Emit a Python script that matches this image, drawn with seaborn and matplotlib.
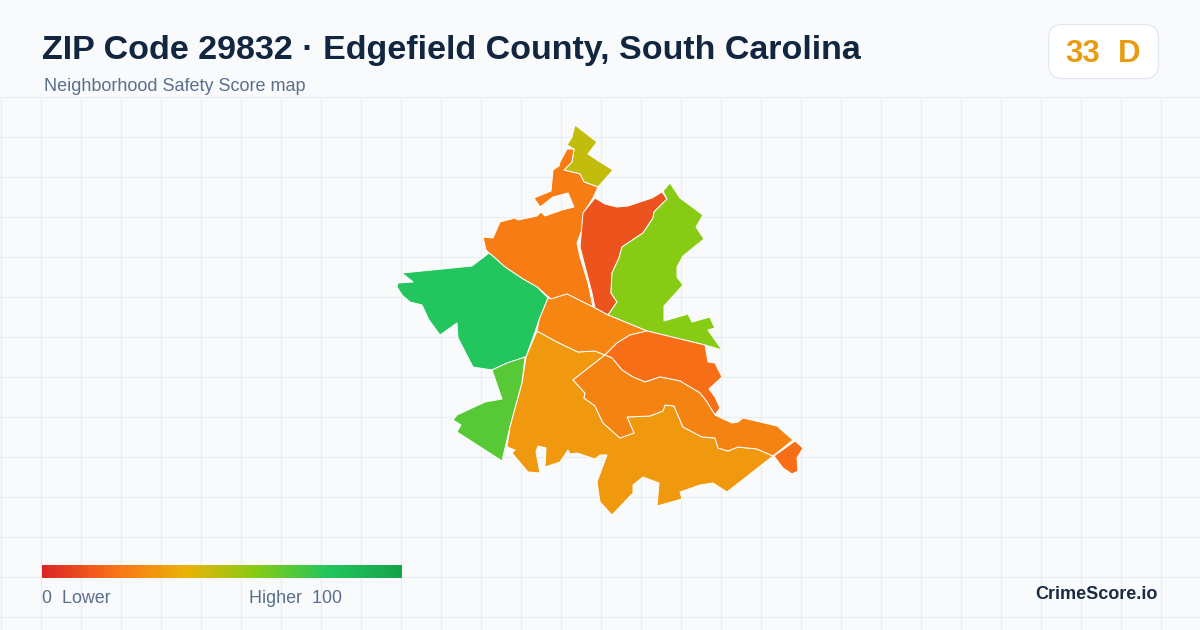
import numpy as np
import seaborn as sns
import matplotlib.pyplot as plt
from matplotlib.colors import LinearSegmentedColormap, Normalize
from matplotlib.patches import FancyBboxPatch

TITLE = "ZIP Code 29832 · Edgefield County, South Carolina"
SUBTITLE = "Neighborhood Safety Score map"

# colour scale stops, score 0-100
SCALE_STOPS = [0, 20, 40, 60, 80, 100]
SCALE_COLORS = ["#dc2626", "#f97316", "#eab308", "#84cc16", "#22c55e", "#16a34a"]

# tract outlines (x, y in pixels)
north_tip = [(575,125),(597,142),(588,154),(600,162),(613,170),(598,187),(584,182),(580,174),(564,170),(572,162),(574,149),(567,145),(572,137)]
north_west = [(574,149),(572,162),(564,170),(580,174),(584,182),(598,187),(593,198),(584,212),(583,227),(577,243),(580,257),(588,283),(593,307),
              (567,294),(551,299),(537,287),(523,279),(505,267),(495,258),(489,253),(486,250),(483,237),(493,238),(500,222),(515,218),(518,220),
              (537,216),(541,212),(545,216),(562,210),(574,207),(568,193),(553,197),(540,207),(534,198),(551,191),(553,170),(559,166),(560,162),(567,149)]
north_mid = [(595,198),(605,204),(617,207),(628,206),(640,202),(652,198),(662,192),(667,199),(654,212),(653,218),(643,233),(622,247),(619,258),(612,273),
             (611,293),(617,302),(608,315),(595,308),(592,293),(580,247),(583,213)]
north_east = [(670,183),(680,198),(703,215),(696,227),(704,239),(683,256),(677,267),(677,277),(683,285),(664,306),(664,321),(688,314),(692,322),
              (710,317),(712,322),(715,328),(708,330),(722,350),(705,345),(647,331),(608,315),(617,302),(611,293),(612,273),(619,258),(622,247),
              (643,233),(653,218),(654,212),(667,199),(663,191)]
west = [(489,253),(495,258),(505,267),(523,279),(537,287),(548,298),(539,320),(535,332),(526,357),(507,363),(492,370),(473,367),(458,338),(457,323),
        (440,335),(429,320),(422,305),(410,302),(402,295),(397,287),(398,283),(413,282),(402,273),(472,266)]
south_west = [(525,357),(522,383),(510,427),(502,461),(457,432),(461,425),(453,420),(457,415),(485,402),(502,399),(492,370),(507,363)]
south = [(537,331),(557,342),(578,352),(595,351),(605,355),(573,380),(585,393),(584,398),(595,406),(603,423),(620,438),(634,433),(627,417),(650,416),(663,411),
         (665,405),(674,406),(683,427),(702,437),(715,438),(718,448),(728,451),(738,447),(757,449),(773,456),(727,492),(713,483),(700,485),(680,492),
         (682,499),(657,506),(659,483),(643,477),(633,485),(633,493),(612,515),(600,502),(597,482),(607,455),(600,455),(595,459),(577,453),(570,454),
         (568,450),(560,462),(545,467),(546,448),(538,446),(536,452),(540,473),(528,472),(512,453),(515,450),(507,447),(510,427),(522,383),(526,357)]
center = [(551,299),(567,294),(593,307),(608,315),(647,331),(630,335),(617,343),(605,355),(595,351),(578,352),(557,342),(537,331),(539,320),(548,298)]
east = [(647,331),(705,345),(708,362),(715,363),(722,377),(709,389),(715,397),(720,408),(715,415),(707,402),(700,393),(690,387),(680,381),(660,377),(645,382),
        (633,377),(622,370),(612,358),(605,355),(617,343),(630,335)]
south_east = [(605,355),(612,358),(622,370),(633,377),(645,382),(660,377),(680,381),(690,387),(700,393),(707,402),(715,415),(717,416),(732,423),(738,422),(743,418),
              (760,422),(777,426),(793,440),(773,456),(757,449),(738,447),(728,451),(718,448),(715,438),(702,437),(683,427),(674,406),(665,405),(663,411),
              (650,416),(627,417),(634,433),(620,438),(603,423),(595,406),(584,398),(585,393),(573,380)]
river_tip = [(795,441),(803,448),(797,458),(798,471),(792,474),(783,468),(774,456)]

TRACTS = [north_tip, north_west, north_mid, north_east, west, south_west, south, center, east, south_east, river_tip]
SCORES = [48, 23, 12, 59, 80, 69, 32, 26, 19, 25, 19]

OVERALL_SCORE = "33"
OVERALL_GRADE = "D"
LEGEND_LOW = "0  Lower"
LEGEND_HIGH = "Higher  100"
BRAND = "CrimeScore.io"

sns.set_theme(style="white")
plt.rcParams['font.family'] = ['Liberation Sans', 'DejaVu Sans']

BG = "#f8fafc"
GRID = "#e4eef3"
NAVY = "#12263f"
SLATE = "#5b6f8c"
AMBER = "#e99c12"

cmap = LinearSegmentedColormap.from_list("safety", [(s / 100, c) for s, c in zip(SCALE_STOPS, SCALE_COLORS)])
norm = Normalize(0, 100)

fig = plt.figure(figsize=(12, 6.3), dpi=100, facecolor=BG)
ax = fig.add_axes([0, 0, 1, 1])
ax.set_xlim(0, 1200)
ax.set_ylim(630, 0)
ax.axis("off")

# background grid, below the header only
for x in np.arange(0.5, 1200, 40):
    ax.plot([x, x], [96.5, 630], color=GRID, lw=0.75, zorder=1)
for y in np.arange(96.5, 630, 40):
    ax.plot([0, 1200], [y, y], color=GRID, lw=0.75, zorder=1)

for outline, score in zip(TRACTS, SCORES):
    xs, ys = zip(*outline)
    ax.fill(xs, ys, facecolor=cmap(norm(score)), edgecolor="white", lw=0.7, joinstyle="round", zorder=2)

ax.text(42, 59, TITLE, fontsize=24.45, fontweight="bold", color=NAVY)
ax.text(44, 91, SUBTITLE, fontsize=12.95, color=SLATE)

badge = FancyBboxPatch((1048.5, 24.5), 110, 54, boxstyle="round,pad=0,rounding_size=14",
                       facecolor="white", edgecolor="#e2e8f0", lw=0.9, zorder=3)
ax.add_patch(badge)
ax.text(1065, 62, OVERALL_SCORE, fontsize=22.5, fontweight="bold", color=AMBER, zorder=4)
ax.text(1118, 62, OVERALL_GRADE, fontsize=22.5, fontweight="bold", color=AMBER, zorder=4)

ax.text(42, 603, LEGEND_LOW, fontsize=12.9, color=SLATE)
ax.text(249, 603, LEGEND_HIGH, fontsize=12.9, color=SLATE)
ax.text(1158, 599, BRAND, fontsize=13, fontweight="bold", color="#1a2b42", ha="right")

# legend ramp
cax = fig.add_axes([42 / 1200, 1 - 578 / 630, 360 / 1200, 13 / 630])
sns.heatmap(np.arange(0, 101).reshape(1, -1), cmap=cmap, vmin=0, vmax=100, cbar=False,
            xticklabels=False, yticklabels=False, ax=cax)

fig.savefig("out.png", dpi=100, facecolor=BG)
